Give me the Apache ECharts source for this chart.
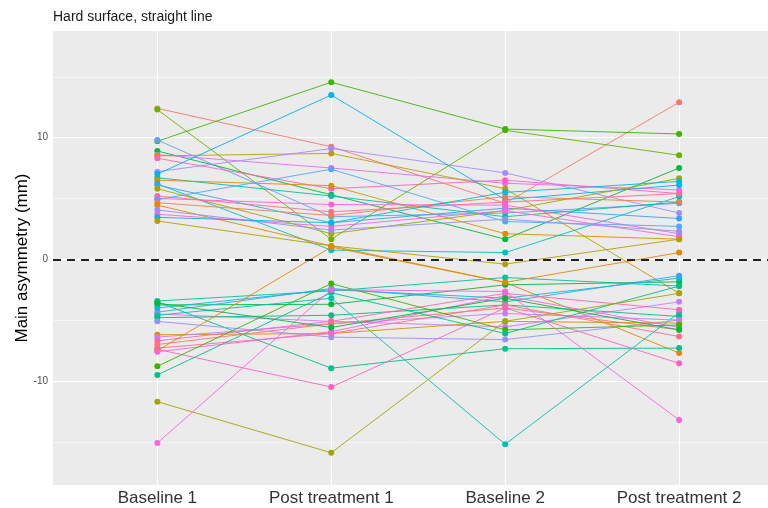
<!DOCTYPE html>
<html>
<head>
<meta charset="utf-8">
<script src="https://cdn.jsdelivr.net/npm/echarts@6/dist/echarts.min.js"></script>
<style>
  html, body { margin: 0; padding: 0; background: #ffffff; }
  #chart { width: 768px; height: 508px; }
</style>
</head>
<body>
<div id="chart"></div>
<script>
// Time points on the x axis
const categories = ['Baseline 1', 'Post treatment 1', 'Baseline 2', 'Post treatment 2'];

// Y axis tick labels and minor grid positions
const yTicks = [-10, 0, 10];
const yMinor = [-15, -5, 5, 15];

// One line per subject: asymmetry (mm) at each time point
const subjectValues = [
  [12.4, 9.25, 4.6, 12.9],
  [12.3, 1.65, 10.6, 8.55],
  [9.7, 14.55, 10.7, 10.3],
  [9.8, 3.5, 3.8, 4.6],
  [8.9, 5.3, 1.65, 7.5],
  [8.6, 7.5, 6.25, 5.7],
  [8.5, 8.7, 5.8, -2.8],
  [8.3, 5.8, 6.5, 5.4],
  [7.2, 9.1, 7.1, 3.8],
  [7.0, 13.5, 4.9, 6.1],
  [6.7, 5.2, 3.5, 4.7],
  [6.5, 6.05, 2.1, 1.65],
  [6.2, 0.75, 0.55, 5.15],
  [6.1, 3.0, 4.2, 3.35],
  [5.8, 2.1, 4.0, 6.65],
  [5.2, 3.9, 4.7, 5.4],
  [5.0, 4.5, 4.45, 2.1],
  [4.9, 7.4, 3.1, 2.7],
  [4.65, 3.6, 5.15, 4.7],
  [4.45, 1.1, -1.9, -7.7],
  [4.05, 2.4, 3.3, 2.3],
  [3.7, 2.7, 4.0, 1.85],
  [3.45, 3.0, 5.5, 6.4],
  [3.15, 1.1, -0.4, 1.65],
  [-3.43, -2.6, -1.5, -2.2],
  [-3.5, -8.95, -7.35, -7.3],
  [-3.75, -3.7, -2.1, -1.85],
  [-4.0, -2.5, -3.2, -1.55],
  [-4.35, -2.4, -3.5, -1.35],
  [-4.5, -5.1, -5.55, -3.5],
  [-4.6, -3.2, -15.2, -4.4],
  [-4.8, -4.6, -3.75, -4.7],
  [-5.1, -6.4, -6.6, -5.0],
  [-6.2, -6.1, -5.1, -5.25],
  [-6.4, -5.3, -4.45, -5.0],
  [-6.7, -5.1, -2.8, -4.15],
  [-7.0, -5.3, -4.0, -5.8],
  [-7.3, -6.1, -3.75, -6.35],
  [-7.4, -10.5, -4.0, -8.55],
  [-7.5, 1.0, -1.9, 0.55],
  [-7.6, -5.95, -3.0, -5.6],
  [-8.8, -2.0, -5.8, -5.4],
  [-9.5, -2.75, -6.1, -2.2],
  [-11.7, -15.9, -5.1, -2.8],
  [-15.1, -2.5, -2.65, -13.2],
  [-3.6, -5.6, -3.2, -5.8]
];

// Hue-palette colour for each subject line
const subjectColors = [
  '#F8766D', '#6BB100', '#39B600', '#619CFF', '#00BA38', '#E76BF3', '#BB9D00', '#FF62BC',
  '#A58AFF', '#00B0F6', '#00C1A3', '#D89000', '#00BFC4', '#35A2FF', '#A3A500', '#FF6C91',
  '#FA62DB', '#4FA7FF', '#F27D52', '#E58700', '#8F91FF', '#F564E3', '#00B9E3', '#B3A000',
  '#00C1A3', '#00C08B', '#00BA38', '#00BCD8', '#35A2FF', '#C77CFF', '#00C0B0', '#00BF7D',
  '#9590FF', '#D89000', '#C77CFF', '#FF64B0', '#F8766D', '#FF6C91', '#FF61C3', '#E58700',
  '#FA62DB', '#39B600', '#00C08B', '#A3A500', '#F564E3', '#00BA38'
];

const FONT = 'Liberation Sans, Arial, sans-serif';

const series = [];

// Panel grid lines (white, major and minor), kept beneath the data
series.push({
  type: 'line', data: [], silent: true, z: 1,
  markLine: {
    z: 1,
    silent: true, symbol: ['none', 'none'], label: { show: false }, animation: false,
    data: [
      ...yTicks.map(v => ({ yAxis: v, lineStyle: { color: '#ffffff', width: 1.1, type: 'solid' } })),
      ...yMinor.map(v => ({ yAxis: v, lineStyle: { color: '#ffffff', width: 0.55, type: 'solid' } })),
      ...categories.map((c, i) => ({ xAxis: i, lineStyle: { color: '#ffffff', width: 1.1, type: 'solid' } }))
    ]
  }
});

// Subject trajectories
subjectValues.forEach((vals, k) => {
  series.push({
    type: 'line',
    z: 3,
    data: vals.map((v, i) => [i, v]),
    symbol: 'circle',
    symbolSize: 6,
    showSymbol: true,
    lineStyle: { width: 0.9, color: subjectColors[k] },
    itemStyle: { color: subjectColors[k], borderWidth: 0 },
    emphasis: { disabled: true },
    animation: false
  });
});

// Zero reference line, on top of the trajectories
series.push({
  type: 'line', data: [], silent: true, z: 8,
  markLine: {
    z: 8,
    silent: true, symbol: ['none', 'none'], label: { show: false }, animation: false,
    data: [{ yAxis: 0, lineStyle: { color: '#222222', width: 2, type: [8, 6] } }]
  }
});

const option = {
  animation: false,
  backgroundColor: '#ffffff',
  title: {
    text: 'Hard surface, straight line',
    left: 53, top: 10, padding: 0,
    textStyle: { fontFamily: FONT, fontSize: 14, fontWeight: 'normal', color: '#1a1a1a' }
  },
  grid: {
    left: 53, right: 0, top: 31, bottom: 23,
    show: true, backgroundColor: '#EBEBEB', borderWidth: 0
  },
  xAxis: {
    type: 'value',
    min: -0.6, max: 3.511,
    axisLine: { show: false },
    splitLine: { show: false },
    axisTick: { show: true, customValues: [0, 1, 2, 3], length: 3, lineStyle: { color: '#333333', width: 1 } },
    axisLabel: {
      customValues: [0, 1, 2, 3],
      formatter: v => categories[Math.round(v)] || '',
      fontFamily: FONT, fontSize: 17, color: '#333333', margin: 5
    }
  },
  yAxis: {
    type: 'value',
    min: -18.55, max: 18.76,
    name: 'Main asymmetry (mm)',
    nameLocation: 'middle',
    nameGap: 22,
    nameMoveOverlap: false,
    nameTextStyle: { fontFamily: FONT, fontSize: 17, color: '#000000' },
    axisLine: { show: false },
    splitLine: { show: false },
    axisTick: { show: true, customValues: yTicks, length: 3, lineStyle: { color: '#333333', width: 1 } },
    axisLabel: {
      customValues: yTicks,
      fontFamily: FONT, fontSize: 10, color: '#4D4D4D', margin: 5
    }
  },
  series: series
};

const chart = echarts.init(document.getElementById('chart'), null, { renderer: 'canvas' });
chart.setOption(option);
</script>
</body>
</html>
